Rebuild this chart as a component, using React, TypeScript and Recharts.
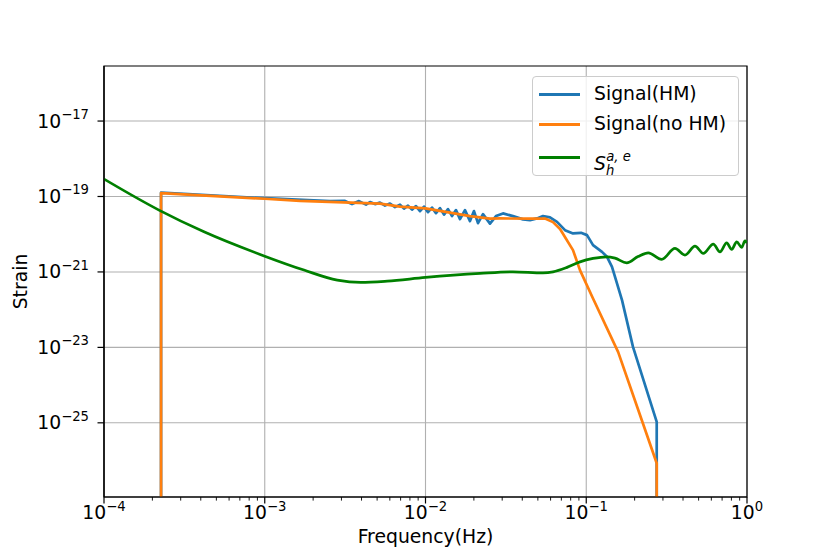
import React from 'react';
import {
  LineChart,
  Line,
  XAxis,
  YAxis,
  CartesianGrid,
  Legend,
  Label,
  ReferenceArea,
} from 'recharts';

const FONT = '"DejaVu Sans", Verdana, sans-serif';
const BLUE = '#1f77b4';
const ORANGE = '#ff7f0e';
const GREEN = '#008000';

// axis ticks
const xMajorTicks = [1e-4, 1e-3, 1e-2, 1e-1, 1];
const xMinorTicks = [
  2e-4, 3e-4, 4e-4, 5e-4, 6e-4, 7e-4, 8e-4, 9e-4,
  2e-3, 3e-3, 4e-3, 5e-3, 6e-3, 7e-3, 8e-3, 9e-3,
  2e-2, 3e-2, 4e-2, 5e-2, 6e-2, 7e-2, 8e-2, 9e-2,
  0.2, 0.3, 0.4, 0.5, 0.6, 0.7, 0.8, 0.9,
];
const yTicks = [1e-25, 1e-23, 1e-21, 1e-19, 1e-17];
const xDomain = [1e-4, 1];
const yDomain = [1.08e-27, 2.88e-16];

const seriesNames = ['Signal(HM)', 'Signal(no HM)', 'S_h^{a,e}'];

// Signal(HM)
const hmFreq = [
  2.264e-4, 2.264e-4, 1e-3, 2.546e-3, 3.157e-3, 3.49e-3, 3.858e-3, 4.264e-3, 4.516e-3,
  4.85e-3, 5.212e-3, 5.598e-3, 6.014e-3,
  6.461e-3, 6.94e-3, 7.349e-3, 7.781e-3, 8.24e-3, 8.727e-3, 9.243e-3, 9.788e-3, 1.0366e-2,
  1.0977e-2, 1.1624e-2, 1.231e-2, 1.3035e-2, 1.3804e-2, 1.4619e-2, 1.5478e-2, 1.6391e-2,
  1.7604e-2, 1.8913e-2, 2.0027e-2, 2.1208e-2, 2.2783e-2, 2.5188e-2, 2.7448e-2, 3.0346e-2,
  3.5012e-2, 4.0413e-2, 4.4678e-2, 4.9386e-2, 5.382e-2, 5.949e-2, 6.577e-2, 7.377e-2,
  8.273e-2, 9.277e-2, 0.1011, 0.1102, 0.1253, 0.1346, 0.1446, 0.1553, 0.1669, 0.1953,
  0.2744, 0.2744,
];
const hmStrain = [
  1e-40, 1.27e-19, 9.0e-20, 7.6e-20, 7.64e-20, 6.28e-20, 7.55e-20, 6.1e-20, 7.1e-20,
  6.28e-20, 6.89e-20, 5.74e-20, 6.48e-20,
  5.23e-20, 6.1e-20, 4.78e-20, 5.74e-20, 4.49e-20, 5.56e-20, 4.1e-20, 5.4e-20, 3.86e-20,
  5.08e-20, 3.63e-20, 4.92e-20, 3.31e-20, 4.63e-20, 3.02e-20, 4.36e-20, 2.51e-20,
  4.36e-20, 2.23e-20, 4.1e-20, 1.97e-20, 3.41e-20, 1.91e-20, 3.02e-20, 3.56e-20,
  3.02e-20, 2.47e-20, 2.37e-20, 2.62e-20, 3.02e-20, 2.79e-20, 2.13e-20, 1.28e-20,
  1.05e-20, 1.09e-20, 9.46e-21, 5.14e-21, 3.41e-21, 2.52e-21, 1.37e-21, 4.95e-22, 1.79e-22,
  1.03e-23, 1.06e-25, 1e-40,
];

// Signal(no HM)
const noHmFreq = [
  2.264e-4, 2.264e-4, 1e-3, 1.657e-3, 5.212e-3, 6.94e-3, 1e-2, 1.42e-2, 1.89e-2, 2.52e-2,
  2.91e-2, 4.47e-2, 5.54e-2, 6.21e-2, 6.87e-2, 8.27e-2, 9.14e-2, 0.11, 0.158, 0.225,
  0.2744, 0.2744,
];
const noHmStrain = [
  1e-40, 1.23e-19, 8.7e-20, 7.69e-20, 6.5e-20, 5.4e-20, 4.85e-20, 3.74e-20, 3.02e-20,
  2.59e-20, 2.62e-20, 2.59e-20, 2.6e-20, 2.09e-20, 1.37e-20, 3.79e-21, 1.12e-21, 2.0e-22,
  7.5e-24, 9.76e-26, 8.48e-27, 1e-40,
];

// S_h^{a,e}
const noiseFreq = [
  1e-4, 2.198e-4, 4.188e-4, 1e-3, 1.754e-3, 2.827e-3, 3.953e-3, 5.785e-3, 1e-2,
  2.183e-2, 3.501e-2, 5.382e-2, 6.211e-2, 7.59e-2, 9.143e-2, 0.1102, 0.134, 0.151, 0.1785,
  0.2099, 0.2432, 0.2946, 0.3565, 0.4114, 0.4748, 0.5348, 0.617, 0.6792, 0.7475, 0.803,
  0.8628, 0.9268, 0.9718, 1.0,
];
const noiseStrain = [
  2.9e-19, 4.36e-20, 1.16e-20, 2.62e-21, 1.12e-21, 6.06e-22, 5.27e-22, 5.7e-22,
  7.15e-22, 9.13e-22, 1.006e-21, 9.46e-22, 1.006e-21, 1.32e-21, 1.85e-21, 2.28e-21,
  2.52e-21, 2.32e-21, 1.74e-21, 2.55e-21, 3.21e-21, 2.15e-21, 4.2e-21, 2.79e-21, 4.84e-21,
  3.09e-21, 5.46e-21, 3.41e-21, 5.91e-21, 3.95e-21, 6.28e-21, 4.47e-21, 6.68e-21, 5.81e-21,
];

const toPoints = (f: number[], h: number[]) => f.map((v, i) => ({ f: v, h: h[i] }));

const hmData = toPoints(hmFreq, hmStrain);
const noHmData = toPoints(noHmFreq, noHmStrain);
const noiseData = toPoints(noiseFreq, noiseStrain);

const expText = (v: number) => {
  const e = Math.round(Math.log10(v));
  return e < 0 ? `\u2212${Math.abs(e)}` : `${e}`;
};

function XTick(props: any) {
  const { x, y, payload } = props;
  const major = xMajorTicks.includes(payload.value);
  if (!major) {
    return <line x1={x} x2={x} y1={y} y2={y + 3.6} stroke="#000" strokeWidth={0.9} />;
  }
  return (
    <g>
      <line x1={x} x2={x} y1={y} y2={y + 6.5} stroke="#000" strokeWidth={1.2} />
      <text x={x} y={y + 22} textAnchor="middle" fontFamily={FONT} fontSize={18.8} fill="#000">
        <tspan>10</tspan>
        <tspan dy={-8.5} fontSize={13.2}>{expText(payload.value)}</tspan>
      </text>
    </g>
  );
}

function YTick(props: any) {
  const { x, y, payload } = props;
  return (
    <g>
      <line x1={x} x2={x - 6.5} y1={y} y2={y} stroke="#000" strokeWidth={1.2} />
      <text x={x - 15} y={y + 6.5} textAnchor="end" fontFamily={FONT} fontSize={18.8} fill="#000">
        <tspan>10</tspan>
        <tspan dy={-8.5} fontSize={13.2}>{expText(payload.value)}</tspan>
      </text>
    </g>
  );
}

const renderXLabel = ({ viewBox }: any) => (
  <text
    x={viewBox.x + viewBox.width / 2}
    y={viewBox.y + 46}
    textAnchor="middle"
    fontFamily={FONT}
    fontSize={18.8}
    fill="#000"
  >
    Frequency(Hz)
  </text>
);

const renderYLabel = ({ viewBox }: any) => {
  const cx = viewBox.x + 27;
  const cy = viewBox.y + viewBox.height / 2;
  return (
    <text
      x={cx}
      y={cy}
      transform={`rotate(-90 ${cx} ${cy})`}
      textAnchor="middle"
      fontFamily={FONT}
      fontSize={18.8}
      fill="#000"
    >
      Strain
    </text>
  );
};

const rowTops = [2, 32, 65];

function LegendBox(props: any) {
  const items = [...(props.payload || [])].sort(
    (a: any, b: any) => seriesNames.indexOf(a.value) - seriesNames.indexOf(b.value),
  );
  return (
    <div
      style={{
        position: 'relative',
        width: 207,
        height: 100,
        boxSizing: 'border-box',
        border: '1px solid #cccccc',
        borderRadius: 4,
        background: 'rgba(255,255,255,0.8)',
        fontFamily: FONT,
        fontSize: 18.8,
        color: '#000',
      }}
    >
      {items.map((item: any, i: number) => (
        <div
          key={item.value}
          style={{ position: 'absolute', left: 0, top: rowTops[i], height: 30, width: '100%' }}
        >
          <div
            style={{
              position: 'absolute',
              left: 6,
              top: 14,
              width: 41,
              height: 3,
              background: item.color,
            }}
          />
          <div style={{ position: 'absolute', left: 61, top: 0, lineHeight: '30px', whiteSpace: 'nowrap' }}>
            {item.value === 'S_h^{a,e}' ? (
              <span>
                <span style={{ fontStyle: 'italic' }}>S</span>
                <span style={{ fontStyle: 'italic', fontSize: 13.2, verticalAlign: '-4.5px' }}>h</span>
                <span style={{ fontStyle: 'italic', fontSize: 13.2, verticalAlign: '9px', marginLeft: -8 }}>
                  a, e
                </span>
              </span>
            ) : (
              item.value
            )}
          </div>
        </div>
      ))}
    </div>
  );
}

export default function App() {
  return (
    <div style={{ position: 'absolute', left: 0, top: 0, width: 830, height: 554, background: '#fff' }}>
      <LineChart width={830} height={554} margin={{ top: 66, right: 83, bottom: 0, left: 0 }}>
        <CartesianGrid
          stroke="#b0b0b0"
          strokeWidth={1.1}
          verticalValues={xMajorTicks}
          horizontalValues={yTicks}
        />
        <XAxis
          dataKey="f"
          type="number"
          scale="log"
          domain={xDomain}
          allowDataOverflow
          ticks={[...xMajorTicks, ...xMinorTicks]}
          interval={0}
          tick={<XTick />}
          tickLine={false}
          tickSize={0}
          tickMargin={0}
          height={57}
          axisLine={{ stroke: '#000', strokeWidth: 1.2 }}
          label={<Label content={renderXLabel} />}
        />
        <YAxis
          type="number"
          scale="log"
          domain={yDomain}
          allowDataOverflow
          ticks={yTicks}
          interval={0}
          tick={<YTick />}
          tickLine={false}
          tickSize={0}
          tickMargin={0}
          width={104}
          axisLine={{ stroke: '#000', strokeWidth: 1.2 }}
          label={<Label content={renderYLabel} />}
        />
        <Line
          data={hmData}
          dataKey="h"
          name={seriesNames[0]}
          type="linear"
          stroke={BLUE}
          strokeWidth={2.7}
          strokeLinejoin="round"
          dot={false}
          activeDot={false}
          isAnimationActive={false}
        />
        <Line
          data={noHmData}
          dataKey="h"
          name={seriesNames[1]}
          type="linear"
          stroke={ORANGE}
          strokeWidth={2.7}
          strokeLinejoin="round"
          dot={false}
          activeDot={false}
          isAnimationActive={false}
        />
        <Line
          data={noiseData}
          dataKey="h"
          name={seriesNames[2]}
          type="monotone"
          stroke={GREEN}
          strokeWidth={2.7}
          strokeLinejoin="round"
          dot={false}
          activeDot={false}
          isAnimationActive={false}
        />
        <ReferenceArea
          x1={xDomain[0]}
          x2={xDomain[1]}
          y1={yDomain[0]}
          y2={yDomain[1]}
          fill="none"
          stroke="#000"
          strokeWidth={1.2}
          ifOverflow="visible"
        />
        <Legend
          layout="vertical"
          align="center"
          verticalAlign="middle"
          content={<LegendBox />}
          wrapperStyle={{ left: 532, top: 76, width: 207, height: 100 }}
        />
      </LineChart>
    </div>
  );
}
